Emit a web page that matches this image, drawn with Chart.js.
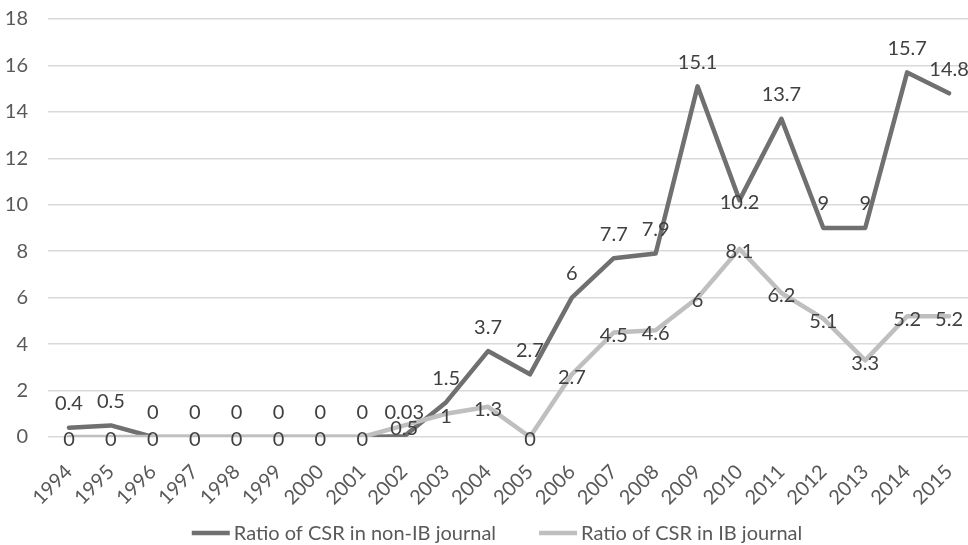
<!DOCTYPE html>
<html>
<head>
<meta charset="utf-8">
<title>Ratio of CSR articles, 1994–2015</title>
<script src="https://cdn.jsdelivr.net/npm/chart.js@4.4.1/dist/chart.umd.min.js"></script>
<style>
  html, body { margin: 0; padding: 0; background: #ffffff; }
  #wrap { width: 968px; height: 545px; overflow: hidden; position: relative; }
  #chart { display: block; }
</style>
</head>
<body>
<div id="wrap"><canvas id="chart" width="994" height="545"></canvas></div>
<script>
// Publication years on the category axis
const years = ['1994','1995','1996','1997','1998','1999','2000','2001','2002','2003','2004',
               '2005','2006','2007','2008','2009','2010','2011','2012','2013','2014','2015'];

// Ratio of CSR articles in non-IB journals
const nonIbRatio = [0.4, 0.5, 0, 0, 0, 0, 0, 0, 0.03, 1.5, 3.7, 2.7, 6, 7.7, 7.9, 15.1, 10.2, 13.7, 9, 9, 15.7, 14.8];

// Ratio of CSR articles in IB journals
const ibRatio = [0, 0, 0, 0, 0, 0, 0, 0, 0.5, 1, 1.3, 0, 2.7, 4.5, 4.6, 6, 8.1, 6.2, 5.1, 3.3, 5.2, 5.2];

// Value axis ticks
const yTicks = [0, 2, 4, 6, 8, 10, 12, 14, 16, 18];

const seriesNames = ['Ratio of CSR in non-IB journal', 'Ratio of CSR in IB journal'];

const DARK = '#707070';
const LIGHT = '#bfbfbf';
const FONT = 'Lato, "Open Sans", sans-serif';
const FSIZE = 20;

// Value labels: non-IB sits above its point, IB sits on its point.
// Years listed here keep the non-IB label on the point instead.
const nonIbCentredYears = ['2010'];

const valueLabels = {
  id: 'valueLabels',
  afterDatasetsDraw(chart) {
    const ctx = chart.ctx;
    ctx.save();
    ctx.font = FSIZE + 'px ' + FONT;
    ctx.fillStyle = '#404040';
    ctx.textAlign = 'center';
    ctx.textBaseline = 'middle';
    chart.data.datasets.forEach((ds, di) => {
      const meta = chart.getDatasetMeta(di);
      meta.data.forEach((pt, i) => {
        let dy;
        if (di === 0) {
          dy = nonIbCentredYears.includes(years[i]) ? 2 : -24;
        } else {
          dy = 3;
        }
        ctx.fillText(String(ds.data[i]), pt.x, pt.y + dy);
      });
    });
    ctx.restore();
  }
};

// Legend row under the axis
const bottomLegend = {
  id: 'bottomLegend',
  afterDraw(chart) {
    const ctx = chart.ctx;
    ctx.save();
    ctx.font = FSIZE + 'px ' + FONT;
    ctx.textBaseline = 'middle';
    ctx.textAlign = 'left';
    const lineLen = 38, gapText = 4, gapItem = 43;
    const items = chart.data.datasets.map(ds => ({
      text: ds.label, color: ds.borderColor,
      w: lineLen + gapText + ctx.measureText(ds.label).width
    }));
    const total = items.reduce((s, it) => s + it.w, 0) + gapItem * (items.length - 1);
    let x = chart.width / 2 - total / 2;
    const y = 533;
    items.forEach(it => {
      ctx.strokeStyle = it.color;
      ctx.lineWidth = 4.5;
      ctx.lineCap = 'butt';
      ctx.beginPath();
      ctx.moveTo(x, y);
      ctx.lineTo(x + lineLen, y);
      ctx.stroke();
      ctx.fillStyle = '#595959';
      ctx.fillText(it.text, x + lineLen + gapText, y + 1);
      x += it.w + gapItem;
    });
    ctx.restore();
  }
};

new Chart(document.getElementById('chart'), {
  type: 'line',
  data: {
    labels: years,
    datasets: [
      {
        label: seriesNames[0],
        data: nonIbRatio,
        borderColor: DARK,
        backgroundColor: DARK,
        borderWidth: 4.5,
        pointRadius: 0,
        tension: 0,
        borderJoinStyle: 'round',
        borderCapStyle: 'round',
        order: 1
      },
      {
        label: seriesNames[1],
        data: ibRatio,
        borderColor: LIGHT,
        backgroundColor: LIGHT,
        borderWidth: 4.5,
        pointRadius: 0,
        tension: 0,
        borderJoinStyle: 'round',
        borderCapStyle: 'round',
        order: 0
      }
    ]
  },
  options: {
    responsive: false,
    animation: false,
    events: [],
    layout: { padding: { top: 19, right: 24, left: 0, bottom: 0 } },
    plugins: {
      legend: { display: false },
      tooltip: { enabled: false },
      title: { display: false }
    },
    scales: {
      x: {
        offset: true,
        grid: { display: false },
        border: { display: false },
        ticks: {
          color: '#595959',
          font: { family: FONT, size: FSIZE },
          maxRotation: 45,
          minRotation: 45,
          autoSkip: false,
          padding: 15
        },
        afterFit(scale) { scale.height = 108; }
      },
      y: {
        min: 0,
        max: 18,
        afterBuildTicks(scale) { scale.ticks = yTicks.map(v => ({ value: v })); },
        grid: { color: '#d9d9d9', lineWidth: 1.5, drawTicks: false },
        border: { display: false },
        ticks: {
          color: '#595959',
          font: { family: FONT, size: FSIZE },
          padding: 20
        },
        afterFit(scale) {
          scale.width = 48;
          // the label gap is horizontal only; keep it out of the vertical extent
          scale.paddingTop = 0;
          scale.paddingBottom = 0;
        }
      }
    }
  },
  plugins: [valueLabels, bottomLegend]
});
</script>
</body>
</html>
